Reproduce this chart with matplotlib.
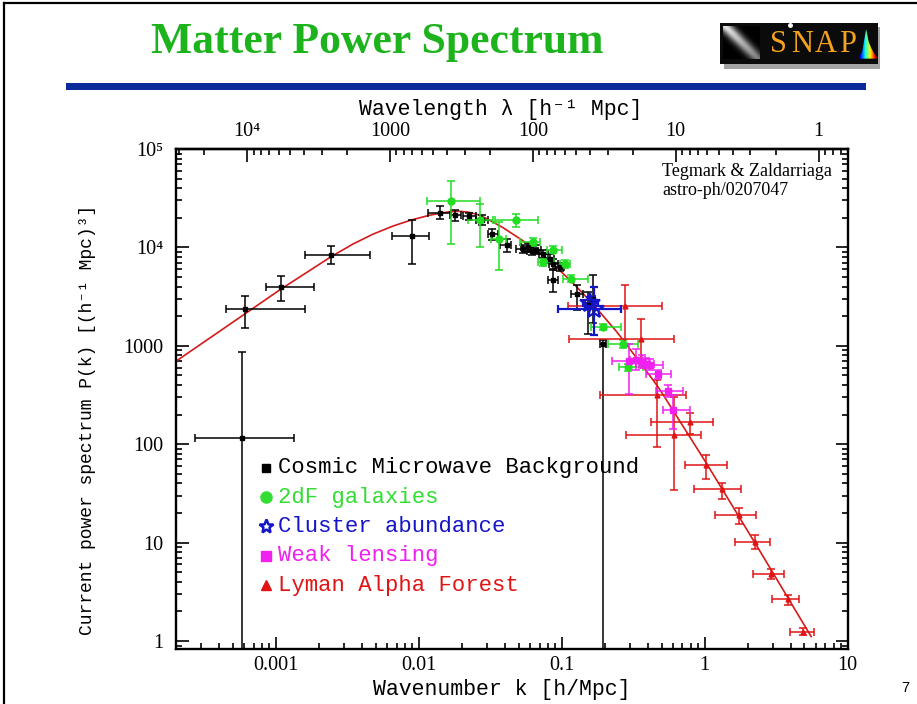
import numpy as np
import matplotlib
matplotlib.use('Agg')
import matplotlib.pyplot as plt
from matplotlib.patches import Rectangle, Polygon
from matplotlib.lines import Line2D
from matplotlib.ticker import LogLocator, NullFormatter

# ---------------- data ----------------
theory_k = [2.0e-4, 6.1e-4, 1.07e-3, 2.43e-3, 3.47e-3, 4.79e-3, 6.6e-3, 8.93e-3, 0.0119,
            0.0140, 0.0163, 0.0190, 0.0220, 0.0260, 0.0297, 0.0389, 0.0508, 0.0597,
            0.0824, 0.1138, 0.141, 0.1845, 0.2415, 0.2686, 0.435, 0.484, 1.028, 2.30, 5.57]
theory_P = [697, 2120, 3720, 8035, 10840, 13650, 16480, 19050, 21230,
            22180, 23000, 23300, 22900, 21500, 19700, 15850, 12300, 10470,
            7240, 4690, 3400, 2210, 1400, 1150, 451, 363, 64.3, 9.44, 1.11]

cmb_k   = [5.81e-4, 6.1e-4, 1.08e-3, 2.43e-3, 8.93e-3, 0.0140, 0.0179, 0.0225, 0.0277, 0.0326,
           0.0411, 0.054, 0.058, 0.062, 0.066, 0.074, 0.0824, 0.087, 0.0968, 0.087, 0.127,
           0.152, 0.165, 0.195]
cmb_P   = [117, 2390, 3960, 8430, 12940, 22500, 21500, 20800, 18800, 13800,
           10470, 9600, 10000, 9300, 9500, 8630, 7680, 6830, 6310, 4620, 3330,
           2600, 3000, 1050]
cmb_Plo = [0.3, 1530, 2830, 6830, 6830, 19250, 18500, 18800, 16700, 11800,
           8960, 8700, 9000, 8400, 8600, 7800, 6900, 6100, 5700, 3520, 2290,
           1330, 1700, 0.3]
cmb_Phi = [865, 3200, 5080, 10240, 19100, 26300, 24200, 22500, 21100, 15500,
           12250, 10600, 11000, 10300, 10500, 9500, 8500, 7600, 7000, 5850, 4110,
           3500, 5200, 1150]
cmb_klo = [2.73e-4, 4.47e-4, 8.5e-4, 1.61e-3, 6.45e-3, 0.0116, 0.0165, 0.0204, 0.0253, 0.0306,
           0.0368, 0.048, 0.052, 0.057, 0.061, 0.069, 0.077, 0.081, 0.090, 0.080, 0.117,
           0.145, 0.158, 0.186]
cmb_khi = [1.34e-3, 1.60e-3, 1.85e-3, 4.54e-3, 0.0118, 0.0169, 0.0199, 0.0253, 0.0306, 0.0359,
           0.0445, 0.059, 0.064, 0.068, 0.072, 0.080, 0.088, 0.094, 0.104, 0.094, 0.141,
           0.160, 0.172, 0.205]

gal_k   = [0.0168, 0.0267, 0.0363, 0.0482, 0.063, 0.074, 0.087, 0.105, 0.117, 0.195, 0.269, 0.29]
gal_P   = [29300, 18800, 12250, 18800, 11300, 7080, 9500, 6800, 4810, 1550, 1036, 610]
gal_Plo = [10900, 10070, 5840, 16100, 10300, 6500, 8700, 6200, 4400, 1450, 950, 560]
gal_Phi = [47100, 27800, 18100, 22000, 12400, 7700, 10400, 7400, 5250, 1650, 1150, 660]
gal_klo = [0.0114, 0.022, 0.0322, 0.034, 0.0508, 0.068, 0.0785, 0.097, 0.102, 0.1615, 0.211, 0.25]
gal_khi = [0.027, 0.033, 0.041, 0.068, 0.070, 0.0884, 0.101, 0.115, 0.153, 0.262, 0.342, 0.37]

clu_k   = [0.168, 0.158]
clu_P   = [2390, 2700]
clu_Plo = [1280, 2350]
clu_Phi = [3950, 3100]
clu_klo = [0.094, 0.140]
clu_khi = [0.262, 0.180]

wl_k   = [0.294, 0.333, 0.366, 0.391, 0.412, 0.471, 0.554, 0.60]
wl_P   = [701, 724, 685, 660, 645, 522, 345, 225]
wl_Plo = [327, 564, 590, 590, 570, 464, 302, 144]
wl_Phi = [1050, 937, 800, 760, 740, 573, 397, 314]
wl_klo = [0.226, 0.30, 0.33, 0.35, 0.36, 0.391, 0.459, 0.51]
wl_khi = [0.36, 0.38, 0.41, 0.44, 0.51, 0.585, 0.705, 0.785]

lya_k   = [0.276, 0.361, 0.465, 0.607, 0.785, 1.03, 1.32, 1.73, 2.24, 2.9, 3.83, 4.92]
lya_P   = [2520, 1180, 314, 123, 168, 61, 34.7, 19.0, 10.2, 4.76, 2.65, 1.24]
lya_Plo = [1050, 713, 94, 34, 128, 44.2, 27.7, 15.3, 8.53, 4.23, 2.32, 1.15]
lya_Phi = [4110, 1890, 447, 302, 208, 77.3, 40.5, 22.6, 11.9, 5.35, 2.93, 1.35]
lya_klo = [0.111, 0.112, 0.185, 0.283, 0.424, 0.724, 0.841, 1.19, 1.62, 2.18, 2.96, 3.97]
lya_khi = [0.50, 0.61, 0.745, 0.938, 1.14, 1.44, 1.79, 2.30, 2.85, 3.62, 4.61, 5.87]

bottom_ticks = [0.001, 0.01, 0.1, 1, 10]
bottom_labels = ['0.001', '0.01', '0.1', '1', '10']
left_ticks = [1, 10, 100, 1000, 1e4, 1e5]
left_labels = ['1', '10', '100', '1000', '10\u2074', '10\u2075']
top_ticks = [1e4, 1000, 100, 10, 1]
top_labels = ['10\u2074', '1000', '100', '10', '1']

legend_labels = ['Cosmic Microwave Background', '2dF galaxies', 'Cluster abundance',
                 'Weak lensing', 'Lyman Alpha Forest']

# ---------------- styling ----------------
C_BLACK = '#000000'
C_GREEN = '#22DD22'
C_BLUE = '#1414C8'
C_MAG = '#F020F0'
C_RED = '#E01414'
SERIF = ['Liberation Serif', 'DejaVu Serif']
MONO = ['Liberation Mono', 'DejaVu Sans Mono']

W, H = 917, 704
fig = plt.figure(figsize=(W / 100, H / 100), dpi=100)
fig.patch.set_facecolor('white')

def fx(px):
    return px / W

def fy(py):
    return 1 - py / H

# frame lines of the slide
fig.add_artist(Line2D([fx(4), fx(4)], [0, fy(2.5)], color='black', lw=1.6))
fig.add_artist(Line2D([fx(4), 1], [fy(2.5), fy(2.5)], color='black', lw=1.6))

# title
fig.text(fx(377), fy(42), 'Matter Power Spectrum', ha='center', va='center',
         fontsize=31.5, fontweight='bold', family=SERIF, color='#1DB31D')

# blue bar
fig.add_artist(Rectangle((fx(66), fy(89.5)), (866 - 66) / W, 6.5 / H,
                         transform=fig.transFigure, color='#0B2B9B', lw=0))

# SNAP logo (shadow first, behind the logo axes)
shadow = Rectangle((fx(724), fy(69)), 156 / W, 42 / H, transform=fig.transFigure,
                   color='#666666', alpha=0.6, lw=0, zorder=-5)
fig.add_artist(shadow)
lax = fig.add_axes([fx(720), fy(63.5), 158 / W, 40.5 / H])
lax.set_zorder(2)
lax.set_xlim(0, 1)
lax.set_ylim(0, 1)
lax.axis('off')
lax.add_patch(Rectangle((0, 0), 1, 1, color='#0b0b0b', lw=0))
gx, gy = np.meshgrid(np.linspace(0, 1, 40), np.linspace(0, 1, 40))
band = np.exp(-((gx - (1 - gy) * 0.9 - 0.05) / 0.22) ** 2) * (0.55 + 0.45 * gy)
lax.imshow(band, extent=(0.02, 0.25, 0.1, 0.9), cmap='gray', vmin=0, vmax=1.1,
           aspect='auto', origin='lower', zorder=2)
for letter, xp in zip('SNAP', [0.37, 0.52, 0.67, 0.81]):
    lax.text(xp, 0.46, letter, ha='center', va='center', fontsize=22, family=SERIF,
             color='#F5A21E', zorder=3)
lax.plot([0.44], [0.95], marker='o', ms=2.5, color='white', zorder=4)
spec = Polygon([[0.875, 0.12], [0.90, 0.30], [0.925, 0.85], [0.94, 0.55], [0.955, 0.40],
                [0.975, 0.25], [0.995, 0.15], [0.995, 0.12]], closed=True,
               transform=lax.transData, fc='none', ec='none')
lax.add_patch(spec)
grad = np.linspace(0, 1, 50).reshape(1, -1)
im = lax.imshow(grad, extent=(0.875, 0.995, 0.12, 0.85), cmap='jet', aspect='auto',
                origin='lower', zorder=3)
im.set_clip_path(spec)

# ---------------- main axes ----------------
ax = fig.add_axes([fx(176), fy(649.3), (847.5 - 176) / W, (649.3 - 149) / H])
ax.set_xscale('log')
ax.set_yscale('log')
ax.set_xlim(2.0e-4, 10)
ax.set_ylim(0.824, 1e5)

ax.plot(theory_k, theory_P, color='#D41A1A', lw=1.2, zorder=2)


def eb(k, P, Plo, Phi, klo, khi, color, fmt, ms, lw=1.1, **kw):
    k = np.asarray(k, float)
    P = np.asarray(P, float)
    yerr = [P - np.asarray(Plo, float), np.asarray(Phi, float) - P]
    xerr = [k - np.asarray(klo, float), np.asarray(khi, float) - k]
    ax.errorbar(k, P, yerr=yerr, xerr=xerr, fmt=fmt, color=color, ms=ms,
                elinewidth=lw, capsize=3.2, capthick=lw, zorder=3, **kw)


eb(cmb_k, cmb_P, cmb_Plo, cmb_Phi, cmb_klo, cmb_khi, C_BLACK, 's', 3.5)
eb(gal_k, gal_P, gal_Plo, gal_Phi, gal_klo, gal_khi, C_GREEN, 'o', 5)
eb(lya_k, lya_P, lya_Plo, lya_Phi, lya_klo, lya_khi, C_RED, '^', 3.5)
eb(wl_k, wl_P, wl_Plo, wl_Phi, wl_klo, wl_khi, C_MAG, 's', 4.5)
eb(clu_k, clu_P, clu_Plo, clu_Phi, clu_klo, clu_khi, C_BLUE, '*', 15, lw=1.6,
   mfc='none', mec=C_BLUE, mew=1.6)

# axes ticks
for sp in ax.spines.values():
    sp.set_linewidth(1.7)
ax.set_xticks(bottom_ticks, labels=bottom_labels)
ax.set_yticks(left_ticks, labels=left_labels)
ax.xaxis.set_minor_locator(LogLocator(base=10, subs=np.arange(2, 10), numticks=50))
ax.yaxis.set_minor_locator(LogLocator(base=10, subs=np.arange(2, 10), numticks=50))
ax.xaxis.set_minor_formatter(NullFormatter())
ax.yaxis.set_minor_formatter(NullFormatter())
ax.tick_params(which='both', direction='in', top=False, right=True, width=1.2)
ax.tick_params(which='major', length=9)
ax.tick_params(which='minor', length=4.5)
ax.tick_params(axis='x', which='major', pad=5)
ax.tick_params(axis='y', which='major', pad=9)
for lab in ax.get_xticklabels() + ax.get_yticklabels():
    lab.set_family(SERIF)
    lab.set_fontsize(14.5)

sec = ax.secondary_xaxis('top', functions=(lambda k: 2 * np.pi / k, lambda l: 2 * np.pi / l))
sec.set_xticks(top_ticks, labels=top_labels)
sec.xaxis.set_minor_locator(LogLocator(base=10, subs=np.arange(2, 10), numticks=50))
sec.xaxis.set_minor_formatter(NullFormatter())
sec.tick_params(which='both', direction='in', width=1.2)
sec.tick_params(which='major', length=9, pad=6)
sec.tick_params(which='minor', length=4.5)
sec.spines['top'].set_linewidth(1.7)
for lab in sec.get_xticklabels():
    lab.set_family(SERIF)
    lab.set_fontsize(14.5)

# axis labels
fig.text(fx(502), fy(690), 'Wavenumber k [h/Mpc]', ha='center', va='center',
         fontsize=15.5, family=MONO)
fig.text(fx(501), fy(110), 'Wavelength \u03bb [h\u207b\u00b9 Mpc]', ha='center', va='center',
         fontsize=15.5, family=MONO)
fig.text(fx(88), fy(420), 'Current power spectrum P(k) [(h\u207b\u00b9 Mpc)\u00b3]',
         ha='center', va='center', rotation=90, fontsize=13, family=MONO)

# reference note
fig.text(fx(662), fy(163), 'Tegmark & Zaldarriaga\nastro-ph/0207047', ha='left', va='top',
         fontsize=13, family=SERIF, linespacing=1.15)

# legend
leg_colors = [C_BLACK, '#33DD33', C_BLUE, C_MAG, C_RED]
leg_markers = ['s', 'o', '*', 's', '^']
leg_ms = [6, 8, 10, 6.5, 7]
leg_y = [468, 497, 526, 556, 585]
for lab, col, mk, ms, yp in zip(legend_labels, leg_colors, leg_markers, leg_ms, leg_y):
    ya = (649.3 - yp) / (649.3 - 149)
    xa = (266 - 176) / (847.5 - 176)
    if mk == '*':
        ax.plot([xa], [ya], marker=mk, ms=ms, mfc='none', mec=col, mew=1.8,
                transform=ax.transAxes, clip_on=False, ls='none')
    else:
        ax.plot([xa], [ya], marker=mk, ms=ms, color=col, transform=ax.transAxes,
                clip_on=False, ls='none')
    ax.text((278 - 176) / (847.5 - 176), ya, lab, color=col, fontsize=16, family=MONO,
            ha='left', va='center', transform=ax.transAxes)

# page number
fig.text(fx(905), fy(688), '7', ha='center', va='center', fontsize=10.5,
         family=['Liberation Sans', 'DejaVu Sans'])

fig.savefig('out.png', dpi=100)
